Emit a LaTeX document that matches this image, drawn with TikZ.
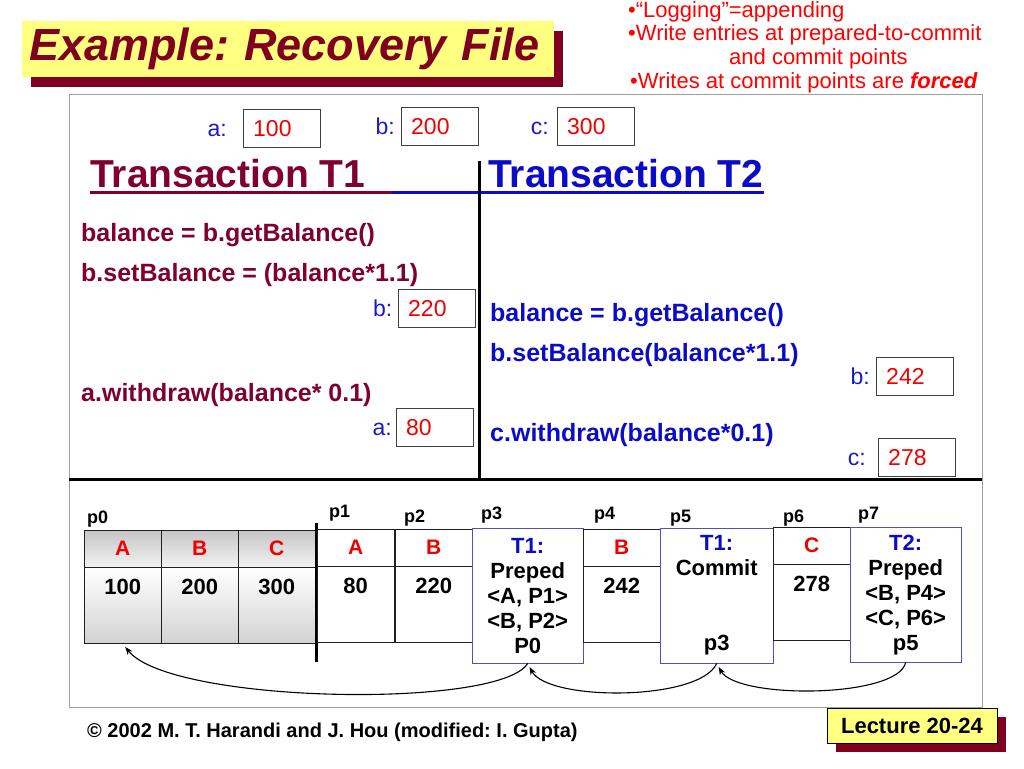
\documentclass[tikz,border=0pt]{standalone}
\usepackage{fontspec}
\setmainfont{Liberation Sans}
\usetikzlibrary{arrows.meta, positioning, shadows}
\frenchspacing

\newcommand{\fsz}[1]{\fontsize{#1}{#1}\selectfont}

\tikzset{
    titlebox/.style={fill=hlYellow, text=titleRed, minimum width=532pt, minimum height=56pt, text width=518pt, inner xsep=7pt, inner ysep=0pt, align=left, font=\bfseries\itshape\fsz{45}, drop shadow={shadow xshift=9pt, shadow yshift=-10pt, fill=titleRed, opacity=1}},
    lecbox/.style={draw=black, fill=hlYellow, minimum width=170pt, minimum height=35pt, inner sep=0pt, font=\bfseries\fsz{22}, drop shadow={shadow xshift=9pt, shadow yshift=-9pt, fill=titleRed, opacity=1}},
    note/.style={anchor=base west, inner sep=0pt, text=noteRed, font=\fsz{22}},
    valbox/.style={draw=boxGrey, text=valRed, font=\fsz{23}, text width=57pt, inner xsep=10pt, inner ysep=0pt, minimum height=38pt, text height=16.5pt, text depth=0pt, align=left, anchor=north west},
    varlabel/.style={text=varBlue, font=\fsz{23}, inner sep=0pt, text height=16.5pt, text depth=0pt},
    heading/.style={anchor=base west, inner sep=0pt, font=\bfseries\fsz{39}},
    t1code/.style={anchor=base west, inner sep=0pt, text=t1Red, font=\bfseries\fsz{25}},
    t2code/.style={t1code, text=t2Blue},
    pagelabel/.style={anchor=base west, inner sep=0pt, font=\bfseries\fsz{18}},
    cellhead/.style={draw=cellGrey, minimum width=77pt, minimum height=37pt, inner sep=0pt, text=valRed, font=\bfseries\fsz{21}, anchor=north west},
    cellbody/.style={draw=cellGrey, minimum width=77pt, inner xsep=0pt, inner ysep=3pt, text height=24pt, text depth=46pt, font=\bfseries\fsz{22}, anchor=north west},
    logbox/.style={draw=boxBlue, minimum width=111pt, minimum height=135pt, inner sep=0pt, align=center, font=\bfseries\fontsize{22}{25}\selectfont, anchor=north west},
    logarrow/.style={-{Stealth[length=8pt,width=6pt]}, line width=1.1pt, shorten >=4pt}
}

\begin{document}
\begin{tikzpicture}[x=1pt, y=-1pt]
    % Define colours
    \definecolor{titleRed}{HTML}{800020}
    \definecolor{t1Red}{HTML}{800030}
    \definecolor{noteRed}{HTML}{FF0000}
    \definecolor{valRed}{HTML}{F00000}
    \definecolor{varBlue}{HTML}{1A1AC8}
    \definecolor{t2Blue}{HTML}{0C0CC8}
    \definecolor{hlYellow}{HTML}{FFFF80}
    \definecolor{frameGrey}{HTML}{A0A0A0}
    \definecolor{boxGrey}{HTML}{404040}
    \definecolor{cellGrey}{HTML}{202020}
    \definecolor{boxBlue}{HTML}{5050C0}

    \useasboundingbox (0,0) rectangle (1024,768);

    % Title and notes
    \node[titlebox] (title) at (288,49) {Example: Recovery File};
    \node[note] (note1) at (628,18) {•“Logging”=appending};
    \node[note] (note2) at (628,41) {•Write entries at prepared-to-commit};
    \node[note] (note3) at (729,64) {and commit points};
    \node[note] (note4) at (630,88) {•Writes at commit points are \textbf{\textit{forced}}};

    % Draw frame
    \draw[frameGrey, line width=1pt] (69,94) rectangle (982,707);

    % Initial values
    \node[valbox] (aval) at (243,109) {100};
    \node[varlabel, left=16pt of aval] (alabel) {a:};
    \node[valbox] (bval) at (401,107) {200};
    \node[varlabel, left=6pt of bval] (blabel) {b:};
    \node[valbox] (cval) at (557,107) {300};
    \node[varlabel, left=8pt of cval] (clabel) {c:};

    % Transaction headings
    \node[heading, text=t1Red] (t1head) at (90,187) {Transaction T1};
    \node[heading, text=t2Blue] (t2head) at (488,187) {Transaction T2};
    \coordinate (ulsplit) at (392,192);
    \draw[t1Red, line width=3pt] (t1head.base west |- ulsplit) -- (ulsplit);
    \draw[t2Blue, line width=3pt] (ulsplit) -- (t2head.base east |- ulsplit);

    % Dividers
    \draw[line width=3pt] (479,161) -- (479,479);
    \draw[line width=3pt] (69,479) -- (982,479);

    % Transaction T1
    \node[t1code] (t1get) at (81,241) {balance = b.getBalance()};
    \node[t1code] (t1set) at (81,281) {b.setBalance = (balance*1.1)};
    \node[valbox] (bnew) at (398,289) {220};
    \node[varlabel, left=5.5pt of bnew] (bnewlabel) {b:};
    \node[t1code] (t1wd) at (81,401) {a.withdraw(balance* 0.1)};
    \node[valbox] (anew) at (396,408) {80};
    \node[varlabel, left=4pt of anew] (anewlabel) {a:};

    % Transaction T2
    \node[t2code] (t2get) at (490,321) {balance = b.getBalance()};
    \node[t2code] (t2set) at (490,361) {b.setBalance(balance*1.1)};
    \node[valbox] (bfin) at (876,357) {242};
    \node[varlabel, left=6pt of bfin] (bfinlabel) {b:};
    \node[t2code] (t2wd) at (490,441) {c.withdraw(balance*0.1)};
    \node[valbox] (cfin) at (878,438) {278};
    \node[varlabel, left=12pt of cfin] (cfinlabel) {c:};

    % Page labels
    \node[pagelabel] (lp0) at (87,523) {p0};
    \node[pagelabel] (lp1) at (329,517) {p1};
    \node[pagelabel] (lp2) at (404,522) {p2};
    \node[pagelabel] (lp3) at (481,519) {p3};
    \node[pagelabel] (lp4) at (594,519) {p4};
    \node[pagelabel] (lp5) at (670,522) {p5};
    \node[pagelabel] (lp6) at (783,522) {p6};
    \node[pagelabel] (lp7) at (858,519) {p7};

    % Page p0
    \foreach \col/\val [count=\i from 0] in {A/100,B/200,C/300} {
        \node[cellhead, top color=gray!45, bottom color=gray!10] (p0h\col) at ({84+77*\i},530) {\col};
        \node[cellbody, top color=white, bottom color=gray!35] (p0b\col) at (p0h\col.south west) {\val};
    }
    \draw[line width=3pt] (316,523) -- (316,662);

    % Log pages
    \node[cellhead] (p1h) at (317,529) {A};
    \node[cellbody] (p1b) at (p1h.south west) {80};
    \node[cellhead] (p2h) at (395,529) {B};
    \node[cellbody] (p2b) at (p2h.south west) {220};
    \node[logbox] (p3box) at (472,528) {\textcolor{t2Blue}{T1:}\\Preped\\<A, P1>\\<B, P2>\\P0};
    \node[cellhead] (p4h) at (583,529) {B};
    \node[cellbody] (p4b) at (p4h.south west) {242};
    \node[logbox, minimum width=113pt] (p5box) at (660,528) {\textcolor{t2Blue}{T1:}\\Commit\\[50pt]p3};
    \node[cellhead] (p6h) at (773,527) {C};
    \node[cellbody] (p6b) at (p6h.south west) {278};
    \node[logbox] (p7box) at (850,527) {\textcolor{t2Blue}{T2:}\\Preped\\<B, P4>\\<C, P6>\\p5};

    % Back pointers
    \draw[logarrow] (p3box.south) .. controls +(-28,46) and +(48,60) .. (p0bA.south);
    \draw[logarrow] (p5box.south) .. controls +(-17,38) and +(20,38) .. (p3box.south);
    \draw[logarrow] (p7box.south) .. controls +(-8,36) and +(20,36) .. (p5box.south);

    % Footer
    \node[anchor=base west, inner sep=0pt, font=\bfseries\fsz{20}] (credit) at (87,737) {© 2002 M. T. Harandi and J. Hou (modified: I. Gupta)};
    \node[lecbox] (lecture) at (912,725.5) {Lecture 20-24};
\end{tikzpicture}
\end{document}
